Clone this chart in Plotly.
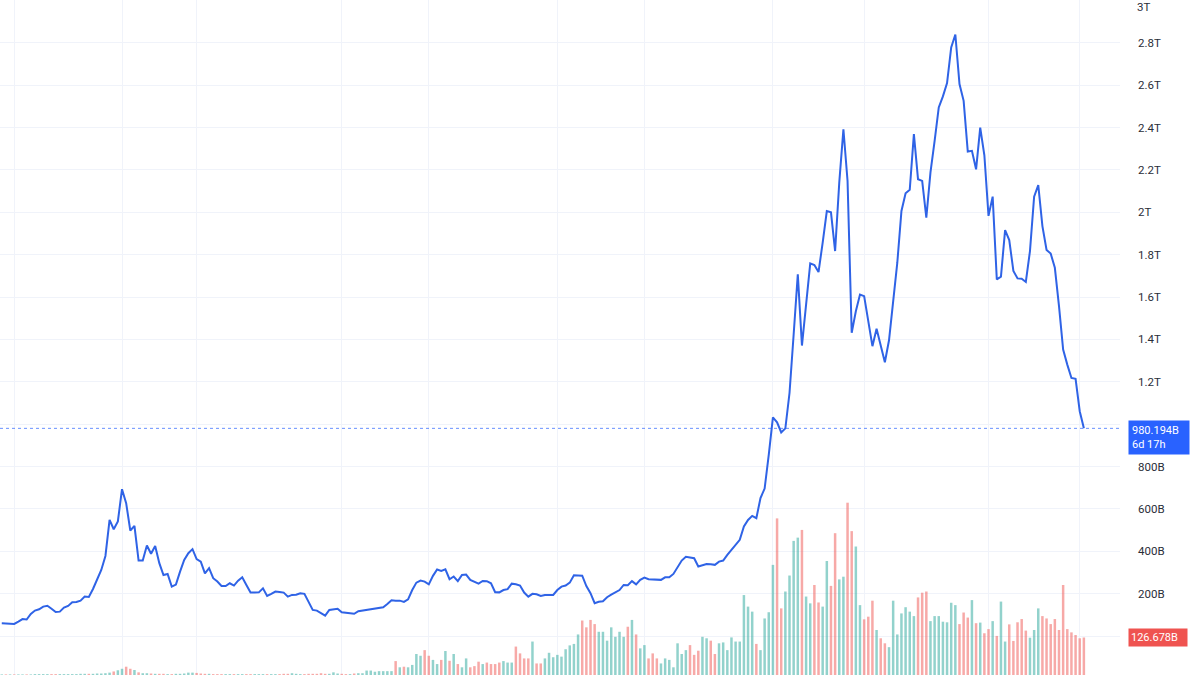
import pandas as pd
import plotly.graph_objects as go

# Weekly total crypto market cap (billions USD)
market_cap_b = [
    60, 58, 58, 57, 68, 80, 78, 104, 120, 126,
    139, 143, 129, 113, 115, 134, 142, 159, 161, 167,
    186, 184, 222, 268, 312, 378, 548, 504, 541, 693,
    627, 498, 520, 356, 356, 427, 388, 425, 344, 288,
    293, 233, 243, 304, 359, 391, 410, 363, 351, 296,
    320, 273, 257, 236, 236, 249, 238, 261, 277, 241,
    205, 205, 206, 225, 189, 199, 210, 208, 205, 186,
    194, 195, 202, 199, 162, 123, 120, 107, 96, 123,
    126, 129, 112, 109, 109, 105, 117, 120, 121, 124,
    128, 131, 136, 151, 169, 167, 167, 161, 173, 217,
    252, 262, 257, 244, 284, 314, 307, 315, 268, 281,
    259, 288, 290, 265, 255, 247, 260, 259, 249, 207,
    206, 217, 221, 247, 244, 238, 205, 186, 199, 197,
    189, 194, 194, 194, 217, 233, 238, 252, 287, 287,
    285, 236, 202, 155, 162, 164, 183, 195, 207, 217,
    241, 240, 259, 244, 265, 276, 268, 266, 265, 265,
    277, 277, 293, 328, 356, 374, 369, 367, 328, 334,
    340, 339, 336, 351, 356, 383, 407, 430, 454, 517,
    548, 567, 556, 651, 696, 856, 1032, 1009, 961, 980,
    1147, 1423, 1707, 1371, 1565, 1759, 1751, 1718, 1857, 2006,
    2000, 1817, 2140, 2392, 2148, 1431, 1533, 1612, 1604, 1494,
    1368, 1450, 1376, 1292, 1396, 1573, 1762, 2006, 2090, 2106,
    2369, 2156, 2148, 1975, 2188, 2337, 2495, 2547, 2610, 2778,
    2839, 2605, 2526, 2287, 2290, 2203, 2400, 2269, 1983, 2074,
    1683, 1696, 1916, 1869, 1723, 1688, 1686, 1671, 1817, 2074,
    2128, 1935, 1822, 1805, 1738, 1557, 1352, 1281, 1218, 1214,
    1061, 980.194,
]

# Weekly volume (billions USD)
volume_b = [
    2, 2, 2, 2, 2, 2, 2, 2, 3, 3,
    3, 3, 3, 3, 3, 3, 3, 3, 3, 4,
    4, 4, 4, 5, 5, 6, 8, 12, 16, 21,
    28, 21, 17, 9, 6, 6, 5, 4, 4, 4,
    3, 3, 4, 4, 5, 8, 8, 7, 5, 4,
    4, 3, 3, 3, 3, 3, 3, 3, 3, 3,
    3, 3, 3, 3, 3, 3, 3, 3, 4, 4,
    6, 4, 3, 3, 4, 4, 4, 6, 4, 4,
    9, 5, 4, 3, 3, 5, 6, 6, 15, 15,
    11, 13, 13, 13, 13, 47, 26, 28, 26, 34,
    71, 65, 84, 65, 51, 37, 51, 81, 48, 71,
    37, 26, 56, 26, 30, 45, 37, 42, 37, 37,
    42, 47, 42, 42, 96, 73, 56, 56, 113, 39,
    39, 56, 75, 60, 68, 62, 87, 100, 105, 137,
    184, 161, 186, 172, 146, 146, 116, 161, 129, 146,
    129, 163, 186, 137, 90, 101, 56, 73, 56, 39,
    56, 51, 26, 107, 71, 84, 101, 68, 82, 129,
    124, 116, 71, 107, 110, 84, 127, 113, 113, 270,
    231, 214, 105, 84, 191, 212, 372, 529, 225, 282,
    336, 453, 464, 490, 265, 242, 304, 245, 231, 385,
    301, 479, 323, 332, 582, 486, 434, 236, 188, 197,
    251, 152, 124, 107, 94, 251, 137, 208, 229, 214,
    199, 262, 278, 282, 182, 199, 199, 180, 178, 244,
    236, 172, 211, 194, 253, 175, 177, 141, 155, 182,
    132, 248, 113, 171, 115, 178, 189, 150, 126, 152,
    225, 199, 191, 172, 189, 152, 304, 155, 144, 135,
    124, 126.678,
]

start_week = "2017-06-12"
grid_dates = ["2017-07-03", "2018-01-01", "2018-05-07", "2019-01-07", "2019-06-03",
              "2020-01-06", "2020-06-01", "2021-01-04", "2021-06-07", "2022-01-03",
              "2022-06-06"]
price_ticks_b = [0, 200, 400, 600, 800, 1000, 1200, 1400, 1600, 1800,
                 2000, 2200, 2400, 2600, 2800, 3000]
price_tick_text = ["", "200B", "400B", "600B", "800B", "", "1.2T", "1.4T", "1.6T",
                   "1.8T", "2T", "2.2T", "2.4T", "2.6T", "2.8T", ""]
top_tick_b = 3000
top_tick_text = "3T"
last_label = "980.194B<br>6d 17h"
vol_label = "126.678B"

dates = pd.date_range(start_week, periods=len(market_cap_b), freq="7D")
cap = [v * 1e9 for v in market_cap_b]
vol = [v * 1e9 for v in volume_b]

UP = "rgba(38,166,154,0.5)"
DOWN = "rgba(239,83,80,0.5)"
bar_colors = [UP if i == 0 or market_cap_b[i] >= market_cap_b[i - 1] else DOWN
              for i in range(len(market_cap_b))]

BLUE = "#2f63e6"
LABEL_BLUE = "#2962FF"
GRID = "#f0f3fa"
FONT = "Roboto, Arial, sans-serif"

fig = go.Figure()
fig.add_trace(go.Bar(x=dates, y=vol, marker=dict(color=bar_colors, line=dict(width=0)),
                     yaxis="y2", showlegend=False, hoverinfo="skip"))
fig.add_trace(go.Scatter(x=dates, y=cap, mode="lines",
                         line=dict(color=BLUE, width=2), showlegend=False))

fig.update_layout(
    width=1200, height=675,
    margin=dict(l=0, r=80, t=0, b=0, autoexpand=False),
    paper_bgcolor="white", plot_bgcolor="white",
    bargap=0.4,
    font=dict(family=FONT, size=11, color="#131722"),
    xaxis=dict(
        type="date",
        range=["2017-06-09", "2022-08-13"],
        tickvals=grid_dates, showticklabels=False, ticks="",
        showgrid=True, gridcolor=GRID, gridwidth=1,
        zeroline=False, showline=False,
    ),
    yaxis=dict(
        side="right",
        range=[-184e9, 3002e9],
        tickvals=[v * 1e9 for v in price_ticks_b], ticktext=price_tick_text,
        showgrid=True, gridcolor=GRID, gridwidth=1,
        zeroline=False, showline=False, ticks="",
        ticklabelstandoff=17, automargin=False,
        tickfont=dict(size=11.5, color="#2a2e39"),
    ),
    yaxis2=dict(
        overlaying="y", range=[0, 2280e9], visible=False,
        showgrid=False, zeroline=False,
    ),
)

fig.add_shape(type="line", xref="paper", x0=0, x1=1, yref="y",
              y0=cap[-1], y1=cap[-1],
              line=dict(color=LABEL_BLUE, width=1, dash="dot"), opacity=0.7)

# top tick label, kept just inside the page's top edge
fig.add_annotation(xref="paper", x=1.0145, xanchor="left",
                   yref="y", y=top_tick_b * 1e9, yanchor="top", yshift=1,
                   text=top_tick_text, showarrow=False, borderpad=0,
                   font=dict(size=11.5, color="#2a2e39", family=FONT))

fig.add_annotation(xref="paper", x=1.007, xanchor="left",
                   yref="y", y=cap[-1], yanchor="top", yshift=8,
                   text=last_label, showarrow=False, align="left",
                   width=54, bgcolor=LABEL_BLUE, borderpad=3,
                   font=dict(color="white", size=11, family=FONT))
fig.add_annotation(xref="paper", x=1.007, xanchor="left",
                   yref="y2", y=vol[-1], yanchor="middle",
                   text=vol_label, showarrow=False, align="left",
                   width=54, bgcolor="#ef5350", borderpad=2,
                   font=dict(color="white", size=11, family=FONT))

fig.write_html("out.html")
